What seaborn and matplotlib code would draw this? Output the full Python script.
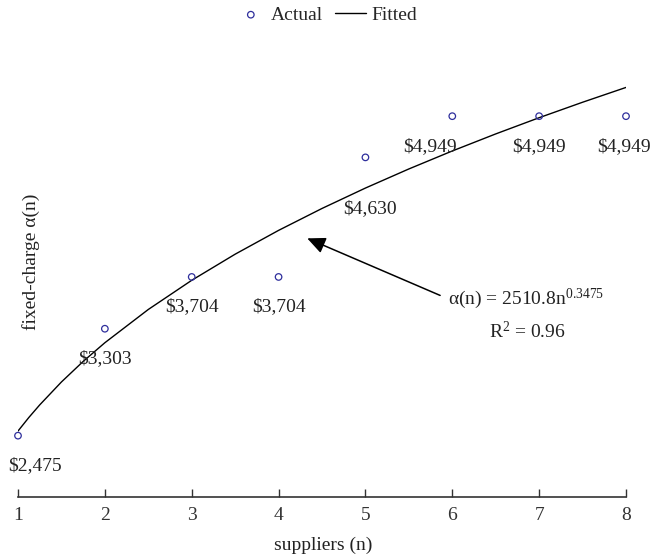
import matplotlib
matplotlib.use("Agg")
import matplotlib.pyplot as plt
import seaborn as sns
import pandas as pd

# datos observados
suppliers = [1, 2, 3, 4, 5, 6, 7, 8]
fixed_charge = [2475, 3303, 3704, 3704, 4630, 4949, 4949, 4949]
value_labels = ["$2,475", "$3,303", "$3,704", "$3,704", "$4,630", "$4,949", "$4,949", "$4,949"]

# curva ajustada
fit_n = [1, 1.125, 1.25, 1.5, 1.75, 2, 2.5, 3, 3.5, 4, 4.5, 5, 5.5, 6, 6.5, 7, 7.5, 8]
fit_alpha = [2510.8, 2615.9, 2713.2, 2890.7, 3049.8, 3194.6, 3452.1, 3678.0, 3880.3, 4064.6,
             4234.4, 4392.4, 4540.3, 4679.6, 4811.6, 4937.2, 5056.9, 5171.6]

# desplazamiento de las etiquetas (pixeles)
label_offsets = [(17, -30), (0, -30), (0, -30), (0, -30), (5, -51), (-22, -30), (0, -30), (-2, -30)]

sns.set_style("white")
plt.rcParams["font.family"] = ["Liberation Serif", "DejaVu Serif"]
plt.rcParams["mathtext.fontset"] = "custom"
plt.rcParams["mathtext.rm"] = "Liberation Serif"
plt.rcParams["mathtext.it"] = "Liberation Serif:italic"

df_pts = pd.DataFrame({"n": suppliers, "alpha": fixed_charge})
df_fit = pd.DataFrame({"n": fit_n, "alpha": fit_alpha})

fig = plt.figure(figsize=(6.52, 5.6), dpi=100)
ax = fig.add_axes([18 / 652, 0.1125, 608 / 652, 0.9196 - 0.1125])

sns.lineplot(data=df_fit, x="n", y="alpha", ax=ax, color="black", linewidth=1.0,
             label="Fitted")
sns.scatterplot(data=df_pts, x="n", y="alpha", ax=ax, marker="o", s=22,
                facecolor="none", edgecolor="#2e2e9c", linewidth=0.9, label="Actual",
                clip_on=False, zorder=3)

for x, y, txt, off in zip(suppliers, fixed_charge, value_labels, label_offsets):
    ax.annotate(txt, (x, y), xytext=off, textcoords="offset pixels",
                ha="center", va="center", fontsize=14, color="#222222")

ax.annotate("", xy=(4.33, 4003), xytext=(5.86, 3561),
            arrowprops=dict(arrowstyle="-|>,head_length=1.1,head_width=0.5",
                            color="black", lw=1.1, shrinkA=0, shrinkB=0))
ax.text(6.85, 3538, r"α(n) = 2510.8n$^{\mathrm{0.3475}}$", ha="center", va="center",
        fontsize=14, color="#222222")
ax.text(6.87, 3282, r"R$^{\mathrm{2}}$ = 0.96", ha="center", va="center",
        fontsize=14, color="#222222")

ax.set_xlim(1, 8)
ax.set_ylim(2000, 5500)
ax.set_xticks(suppliers)
ax.set_yticks([])
for side in ["left", "right", "top"]:
    ax.spines[side].set_visible(False)
ax.spines["bottom"].set_color("#333333")
ax.spines["bottom"].set_linewidth(1.2)
ax.tick_params(axis="x", direction="in", length=6, width=1.0, colors="#333333",
               labelsize=14, pad=7, bottom=True)

ax.set_xlabel("suppliers (n)", fontsize=14, color="#222222")
ax.xaxis.set_label_coords(0.502, -0.088)
ax.set_ylabel("fixed-charge α(n)", fontsize=14, color="#222222")
ax.yaxis.set_label_coords(0.037, 0.52)

handles, labels = ax.get_legend_handles_labels()
order = [labels.index("Actual"), labels.index("Fitted")]
ax.legend([handles[i] for i in order], [labels[i] for i in order],
          loc="center", bbox_to_anchor=(326 / 652, 1 - 15 / 560),
          bbox_transform=fig.transFigure, ncol=2, frameon=False, fontsize=14,
          handlelength=1.6, columnspacing=0.6, handletextpad=0.25)

fig.savefig("out.png", dpi=100)
